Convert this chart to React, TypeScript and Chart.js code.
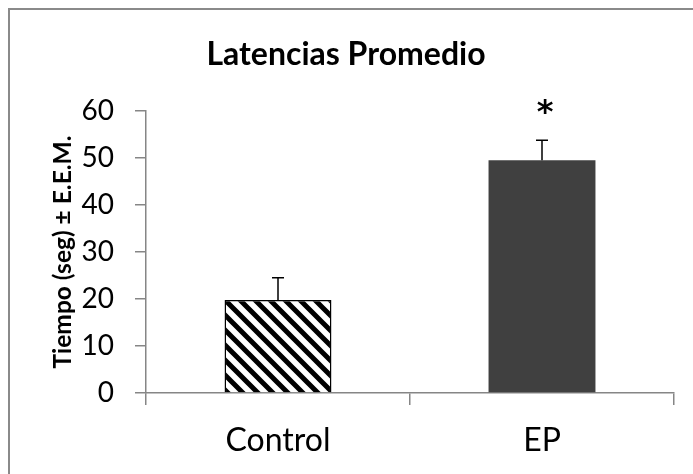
import React, { useEffect, useRef } from "react";
import { Chart, registerables } from "chart.js";

Chart.register(...registerables);

const categories = ["Control", "EP"];
const means = [19.8, 49.5];
const sem = [4.7, 4.3];
const significance = ["", "*"];
const yMin = 0;
const yMax = 60;
const yStep = 10;

const FONT = "Lato, 'Open Sans', sans-serif";
const AXIS_GRAY = "#868686";

export default function App() {
  const ref = useRef<HTMLCanvasElement | null>(null);

  useEffect(() => {
    const canvas = ref.current;
    if (!canvas) return;

    const s = 15;
    const tile = document.createElement("canvas");
    tile.width = s;
    tile.height = s;
    const t = tile.getContext("2d")!;
    t.fillStyle = "#ffffff";
    t.fillRect(0, 0, s, s);
    t.strokeStyle = "#000000";
    t.lineWidth = 5;
    t.beginPath();
    t.moveTo(-5, -5);
    t.lineTo(s + 5, s + 5);
    t.moveTo(-5, s - 5);
    t.lineTo(5, s + 5);
    t.moveTo(s - 5, -5);
    t.lineTo(s + 5, 5);
    t.stroke();
    const pattern = canvas.getContext("2d")!.createPattern(tile, "repeat");

    const errorBars = {
      id: "errorBars",
      afterDatasetsDraw(chart: any) {
        const { ctx } = chart;
        const y = chart.scales.y;
        const meta = chart.getDatasetMeta(0);
        ctx.save();
        ctx.strokeStyle = "#000";
        ctx.lineWidth = 1.5;
        meta.data.forEach((bar: any, i: number) => {
          const cx = bar.x;
          const top = y.getPixelForValue(means[i]);
          const hi = y.getPixelForValue(means[i] + sem[i]);
          ctx.beginPath();
          ctx.moveTo(cx, top);
          ctx.lineTo(cx, hi);
          ctx.moveTo(cx - 6, hi);
          ctx.lineTo(cx + 6, hi);
          ctx.stroke();
          if (significance[i]) {
            ctx.fillStyle = "#000";
            ctx.font = `bold 32px 'DejaVu Sans', sans-serif`;
            ctx.textAlign = "center";
            ctx.textBaseline = "alphabetic";
            ctx.fillText(significance[i], cx + 3, hi - 18);
          }
        });
        ctx.restore();
      },
    };

    const chart = new Chart(canvas, {
      type: "bar",
      data: {
        labels: categories,
        datasets: [
          {
            data: means,
            backgroundColor: [pattern as any, "#404040"],
            borderColor: ["#000000", "#404040"],
            borderWidth: [1.5, 0] as any,
            barPercentage: 0.405,
            categoryPercentage: 1,
          },
        ],
      },
      options: {
        responsive: false,
        animation: false,
        layout: { padding: { left: 8, right: 19, top: 0, bottom: 0 } },
        plugins: {
          legend: { display: false },
          tooltip: { enabled: false },
          title: {
            display: true,
            text: "Latencias Promedio",
            color: "#000",
            font: { family: FONT, size: 32, weight: "bold", lineHeight: 1.2 },
            padding: { top: 25.8, bottom: 36.8 },
          },
        },
        scales: {
          x: {
            type: "category",
            afterFit(scale: any) {
              scale.height = 81;
            },
            grid: {
              display: true,
              offset: true,
              drawOnChartArea: false,
              drawTicks: true,
              tickLength: 12,
              color: AXIS_GRAY,
              lineWidth: 1.5,
            },
            border: { display: true, color: AXIS_GRAY, width: 1.5 },
            ticks: {
              color: "#000",
              font: { family: FONT, size: 32 },
              padding: 16,
            },
          },
          y: {
            min: yMin,
            max: yMax,
            afterFit(scale: any) {
              scale.width = 128;
            },
            ticks: {
              stepSize: yStep,
              color: "#000",
              font: { family: FONT, size: 28 },
              padding: 21,
            },
            grid: {
              display: true,
              drawOnChartArea: false,
              drawTicks: true,
              tickLength: 11,
              color: AXIS_GRAY,
              lineWidth: 1.5,
            },
            border: { display: true, color: AXIS_GRAY, width: 1.5 },
            title: {
              display: true,
              text: "Tiempo (seg) ± E.E.M.",
              color: "#000",
              font: { family: FONT, size: 24.5, weight: "bold", lineHeight: 1.2 },
              padding: { top: 30.8, bottom: 0 },
            },
          },
        },
      },
      plugins: [errorBars],
    });

    return () => chart.destroy();
  }, []);

  return (
    <div
      style={{
        position: "fixed",
        left: 8,
        top: 8,
        width: 685,
        height: 466,
        boxSizing: "border-box",
        borderLeft: "2px solid #8a8a8a",
        borderTop: "2px solid #8a8a8a",
        background: "#fff",
      }}
    >
      <canvas ref={ref} width={683} height={464} style={{ display: "block", width: 683, height: 464 }} />
    </div>
  );
}
